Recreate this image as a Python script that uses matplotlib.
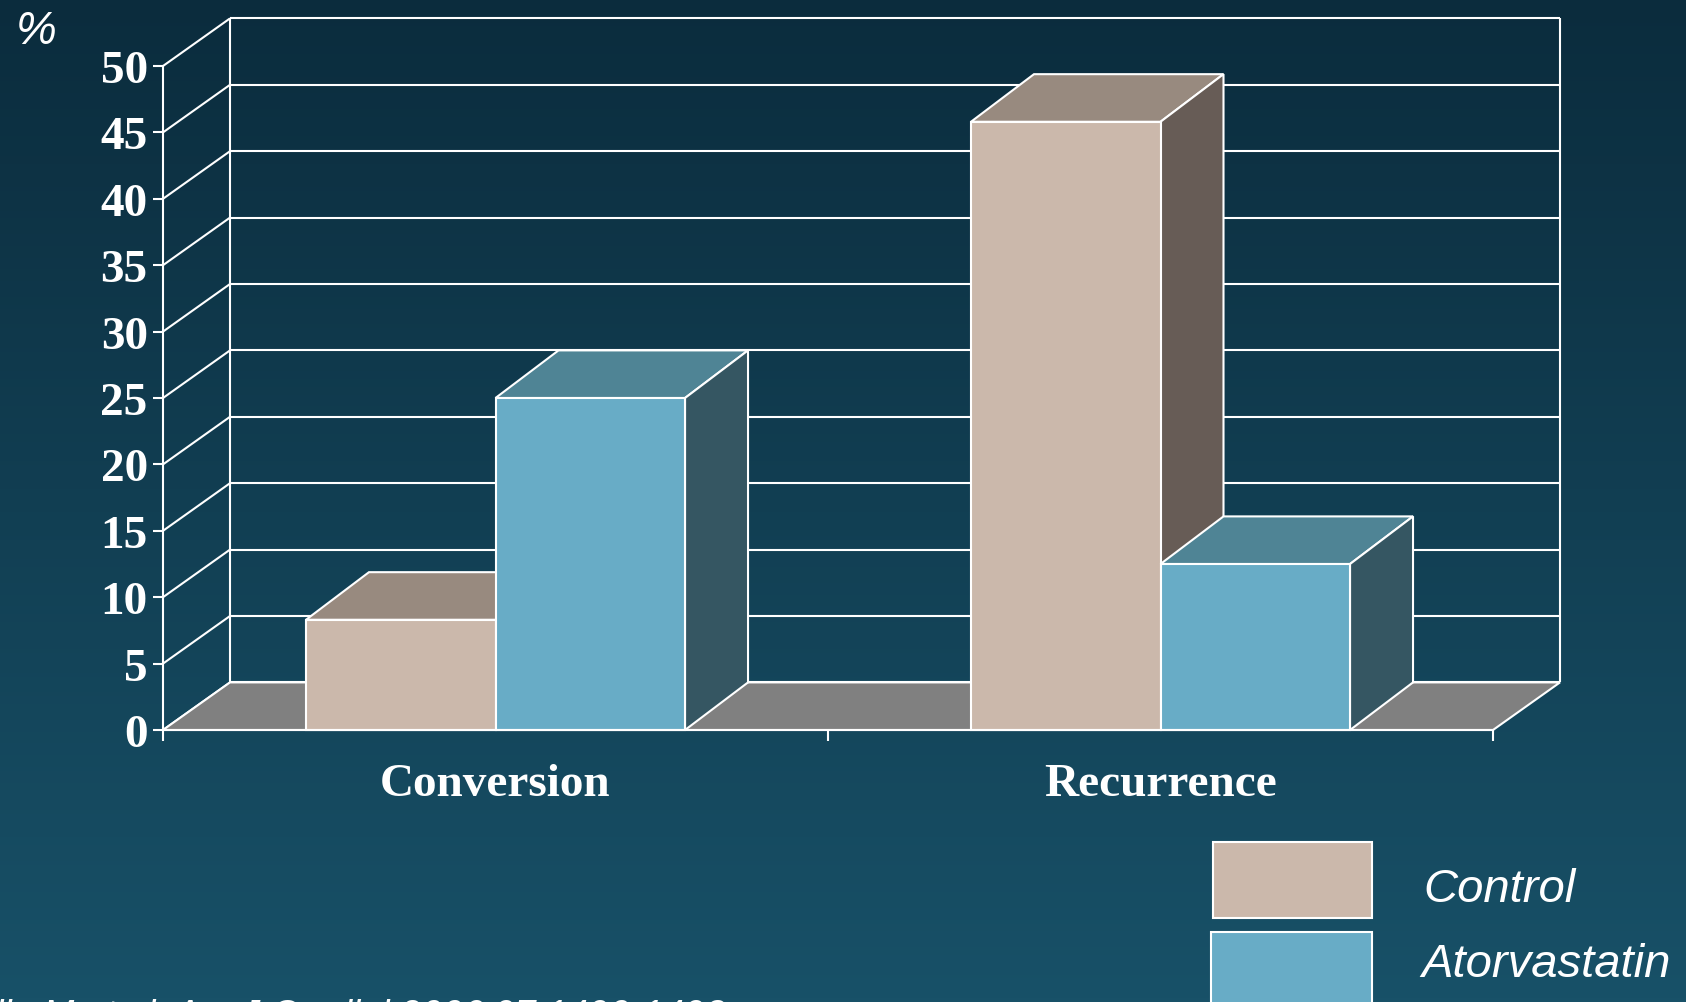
import numpy as np
import matplotlib
matplotlib.use("Agg")
import matplotlib.pyplot as plt
from matplotlib.patches import Polygon, Rectangle

# data
categories = ["Conversion", "Recurrence"]
control = [8.3, 45.8]
atorvastatin = [25.0, 12.5]
series_names = ["Control", "Atorvastatin"]
yticks = list(range(0, 55, 5))
citation = "Ozaydin M et al. Am J Cardiol 2006;97:1490-1493"

# colours: front, top, side
ctrl_cols = ("#cbb8ab", "#988a7f", "#675c56")
ator_cols = ("#68acc6", "#4f8495", "#355662")
floor_col = "#808080"

W, H = 1686, 1003
fig = plt.figure(figsize=(W / 100, H / 100), dpi=100)

# background gradient
bg = fig.add_axes([0, 0, 1, 1], zorder=-10)
top = np.array([11, 44, 61]) / 255
bot = np.array([24, 81, 104]) / 255
t = np.linspace(0, 1, 256)[:, None]
grad = (top[None, :] * (1 - t) + bot[None, :] * t)[:, None, :]
bg.imshow(grad, aspect="auto", extent=[0, 1, 0, 1])
bg.axis("off")

# main axes, front plane
x0, y0, x1, y1 = 163, 731, 1493, 67
ax = fig.add_axes([x0 / W, 1 - y0 / H, (x1 - x0) / W, (y0 - y1) / H])
ax.set_facecolor("none")
ax.set_xlim(0, 2)
ax.set_ylim(0, 50)

px_x = (x1 - x0) / 2.0      # pixels per category
px_y = (y0 - y1) / 50.0     # pixels per unit
DX = 67 / px_x
DY = 47.6 / px_y
BDX = 63 / px_x             # bar depth
lw = 1.5
wc = "white"

def line(xs, ys, z=1):
    ax.plot(xs, ys, color=wc, lw=lw, clip_on=False, zorder=z, solid_capstyle="butt")

def face(pts, col, z):
    ax.add_patch(Polygon(pts, closed=True, facecolor=col, edgecolor=wc,
                         lw=lw, clip_on=False, zorder=z, joinstyle="miter"))

# back wall and side wall grid
for v in yticks:
    line([DX, 2 + DX], [v + DY, v + DY])
    line([0, DX], [v, v + DY])
line([DX, DX], [DY, 50 + DY])
line([2 + DX, 2 + DX], [DY, 50 + DY])

# floor
face([(0, 0), (2, 0), (2 + DX, DY), (DX, DY)], floor_col, 2)

# bars
bw = 0.285
def bar3d(xl, h, cols, z):
    xr = xl + bw
    face([(xl, h), (xr, h), (xr + BDX, h + DY), (xl + BDX, h + DY)], cols[1], z)
    face([(xr, 0), (xr + BDX, DY), (xr + BDX, h + DY), (xr, h)], cols[2], z)
    face([(xl, 0), (xr, 0), (xr, h), (xl, h)], cols[0], z)

for i in range(len(categories)):
    c = i + 0.5
    bar3d(c - bw, control[i], ctrl_cols, 3)
    bar3d(c, atorvastatin[i], ator_cols, 4)

# axes
for s in ["top", "right"]:
    ax.spines[s].set_visible(False)
for s in ["left", "bottom"]:
    ax.spines[s].set_color(wc)
    ax.spines[s].set_linewidth(lw)
    ax.spines[s].set_zorder(6)
ax.set_yticks(yticks)
ax.set_yticklabels([str(v) for v in yticks])
ax.set_xticks([0, 1, 2])
ax.set_xticklabels([])
ax.set_xticks([0.5, 1.5], minor=True)
ax.set_xticklabels(categories, minor=True)
ax.tick_params(axis="y", colors=wc, length=7, width=lw, pad=4,
               labelsize=34)
ax.tick_params(axis="x", which="major", colors=wc, length=8, width=lw)
ax.tick_params(axis="x", which="minor", colors=wc, length=0, pad=24,
               labelsize=34)
for lab in ax.get_yticklabels() + ax.get_xticklabels(minor=True):
    lab.set_family("Liberation Serif")
    lab.set_fontweight("bold")

fig.text(16 / W, 1 - 10 / H, "%", color=wc, fontsize=33, style="italic",
         family="Liberation Sans", ha="left", va="top")

# legend
for (lx, ly, lw_, lh), col, name, ty in [
        ((1213, 843, 159, 76), ctrl_cols[0], series_names[0], 902),
        ((1211, 933, 161, 80), ator_cols[0], series_names[1], 977)]:
    fig.add_artist(Rectangle((lx / W, 1 - (ly + lh) / H), lw_ / W, lh / H,
                             transform=fig.transFigure, facecolor=col,
                             edgecolor=wc, lw=lw))
    fig.text((lx + 210) / W, 1 - ty / H, name, color=wc, fontsize=34,
             style="italic", family="Liberation Sans", ha="left",
             va="baseline")

fig.text(-105 / W, 1 - 1027 / H, citation, color=wc, fontsize=27,
         style="italic", family="Liberation Sans", ha="left", va="baseline")

fig.savefig("out.png", dpi=100)
